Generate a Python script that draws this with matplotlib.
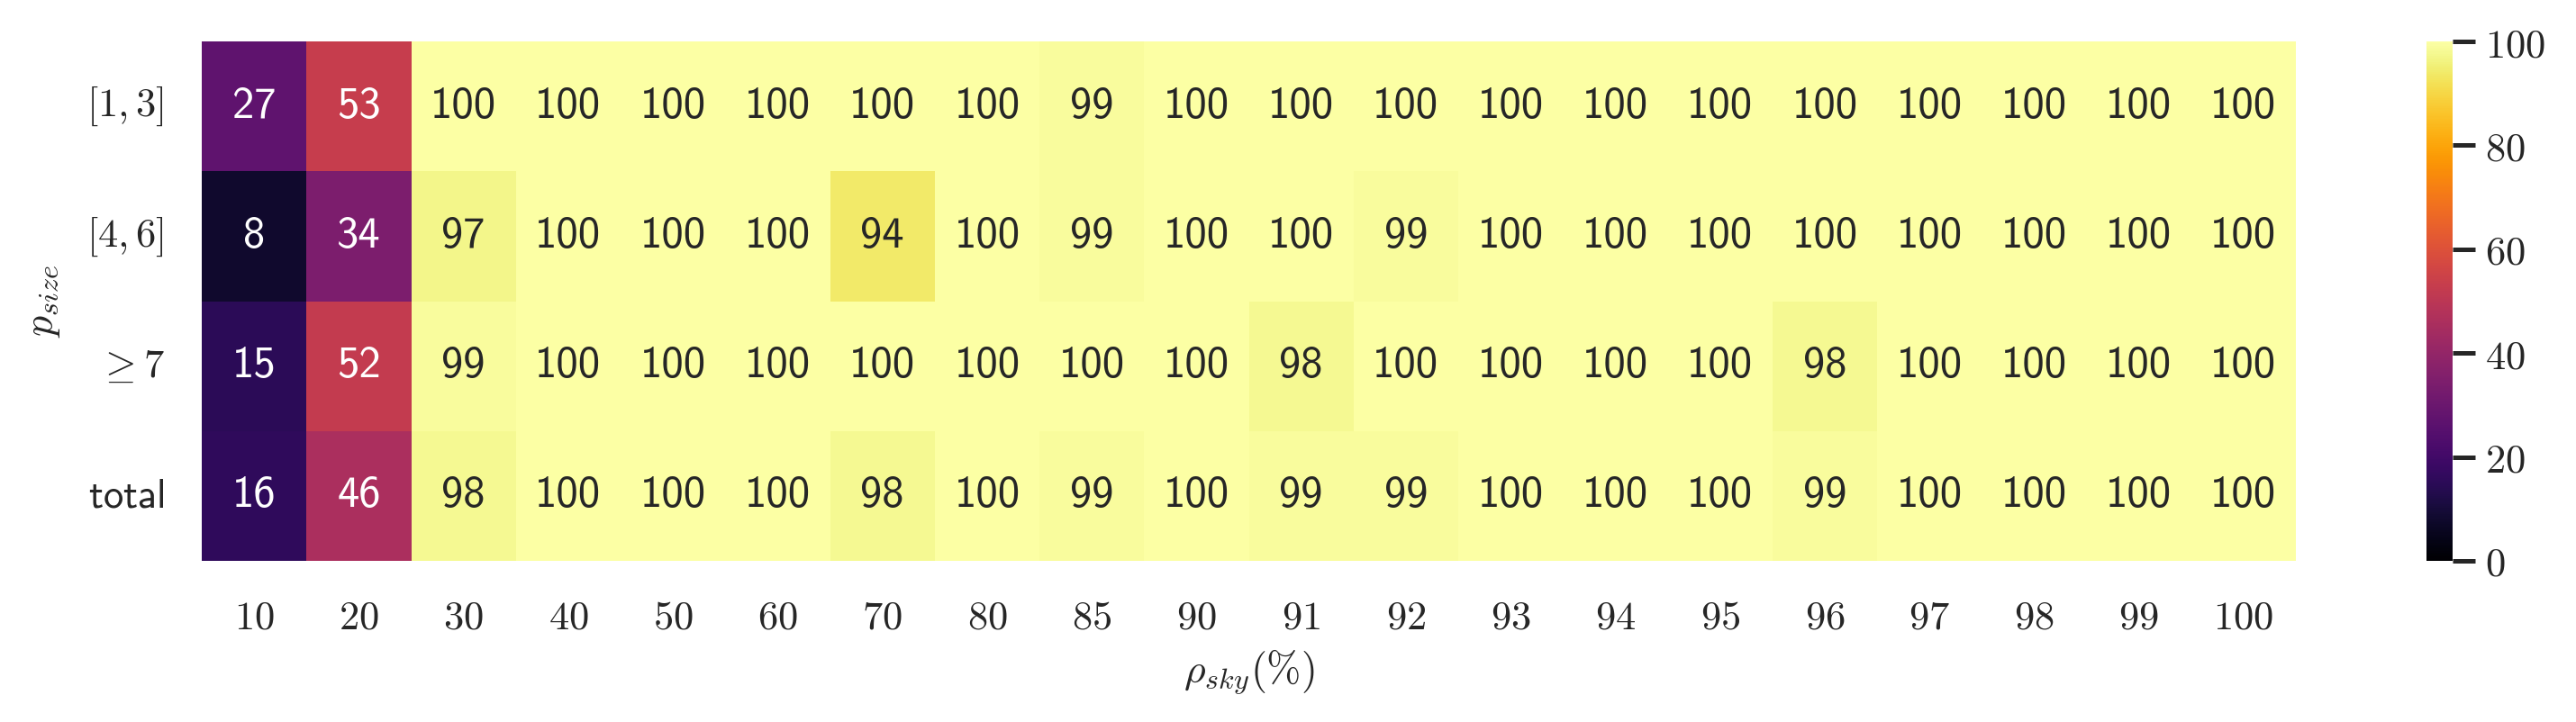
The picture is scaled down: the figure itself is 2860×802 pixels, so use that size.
import numpy as np
import matplotlib
matplotlib.use("Agg")
import matplotlib.pyplot as plt
import seaborn as sns

plt.rcParams['mathtext.fontset'] = 'cm'
plt.rcParams['axes.formatter.use_mathtext'] = True

rho_sky = [10, 20, 30, 40, 50, 60, 70, 80, 85, 90, 91, 92, 93, 94, 95, 96, 97, 98, 99, 100]
p_size = [r'$[1,3]$', r'$[4,6]$', r'$\geq 7$', r'$\mathsf{total}$']

row_1_3 = [27, 53, 100, 100, 100, 100, 100, 100, 99, 100, 100, 100, 100, 100, 100, 100, 100, 100, 100, 100]
row_4_6 = [8, 34, 97, 100, 100, 100, 94, 100, 99, 100, 100, 99, 100, 100, 100, 100, 100, 100, 100, 100]
row_ge7 = [15, 52, 99, 100, 100, 100, 100, 100, 100, 100, 98, 100, 100, 100, 100, 98, 100, 100, 100, 100]
row_total = [16, 46, 98, 100, 100, 100, 98, 100, 99, 100, 99, 99, 100, 100, 100, 99, 100, 100, 100, 100]

data = np.array([row_1_3, row_4_6, row_ge7, row_total])

W, H = 2860, 802
fig = plt.figure(figsize=(W / 200, H / 200), dpi=200)
ax = fig.add_axes([224 / W, 1 - 623 / H, (2549 - 224) / W, (623 - 46) / H])
cax = fig.add_axes([2694 / W, 1 - 623 / H, (2723 - 2694) / W, (623 - 46) / H])

sns.heatmap(data, ax=ax, cbar_ax=cax, cmap='inferno', vmin=0, vmax=100,
            annot=True, fmt='d',
            annot_kws={'fontfamily': 'cmss10', 'fontsize': 17.5})

txt_col = '#262626'
ax.set_xticklabels([f'${v}$' for v in rho_sky], fontsize=16, color=txt_col, rotation=0)
ax.set_yticklabels(p_size, fontsize=16, color=txt_col, rotation=0)
ax.tick_params(axis='both', length=0)
ax.tick_params(axis='x', pad=15)
ax.tick_params(axis='y', pad=15)
ax.set_xlabel(r'$\rho_{sky}(\%)$', fontsize=16.5, color=txt_col, labelpad=4)
ax.set_ylabel(r'$p_{size}$', fontsize=16.5, color=txt_col, labelpad=10)

cax.set_yticks([0, 20, 40, 60, 80, 100])
cax.set_yticklabels([f'${v}$' for v in [0, 20, 40, 60, 80, 100]], fontsize=16, color=txt_col)
cax.tick_params(axis='y', length=9, width=1.8, color=txt_col, pad=4)

plt.savefig('out.png', dpi=200)
